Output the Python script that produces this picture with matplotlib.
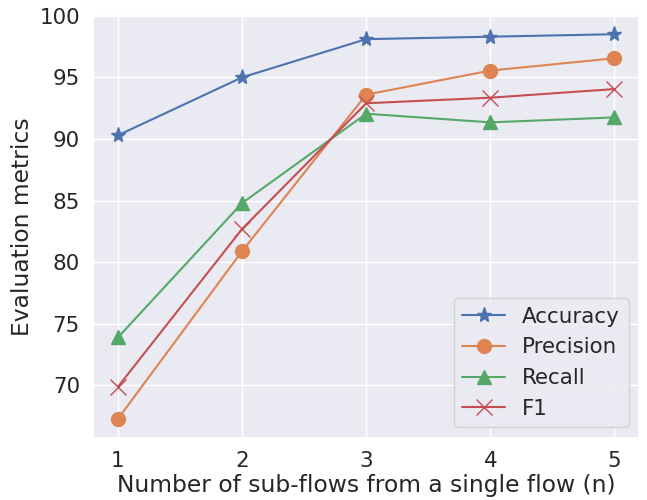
import matplotlib
matplotlib.use("Agg")
import matplotlib.pyplot as plt
import seaborn as sns

sns.set_theme(style="darkgrid", font_scale=1.4)

n_subflows = [1, 2, 3, 4, 5]
accuracy = [90.3, 95.0, 98.1, 98.3, 98.5]
precision = [67.3, 80.9, 93.6, 95.55, 96.55]
recall = [73.9, 84.8, 92.05, 91.35, 91.75]
f1 = [69.9, 82.7, 92.9, 93.35, 94.05]

fig = plt.figure(figsize=(6.47, 5.0), dpi=100)
ax = fig.add_axes([0.144, 0.124, 0.844, 0.846])

ax.plot(n_subflows, accuracy, marker='*', markersize=11, linewidth=1.5, label='Accuracy')
ax.plot(n_subflows, precision, marker='o', markersize=10, linewidth=1.5, label='Precision')
ax.plot(n_subflows, recall, marker='^', markersize=10, linewidth=1.5, label='Recall')
ax.plot(n_subflows, f1, marker='x', markersize=11, linewidth=1.5, label='F1')

ax.set_xticks(n_subflows)
ax.set_xlabel('Number of sub-flows from a single flow (n)', labelpad=2)
ax.set_ylabel('Evaluation metrics')
ax.legend(loc='lower right')

fig.savefig('out.png', dpi=100)
